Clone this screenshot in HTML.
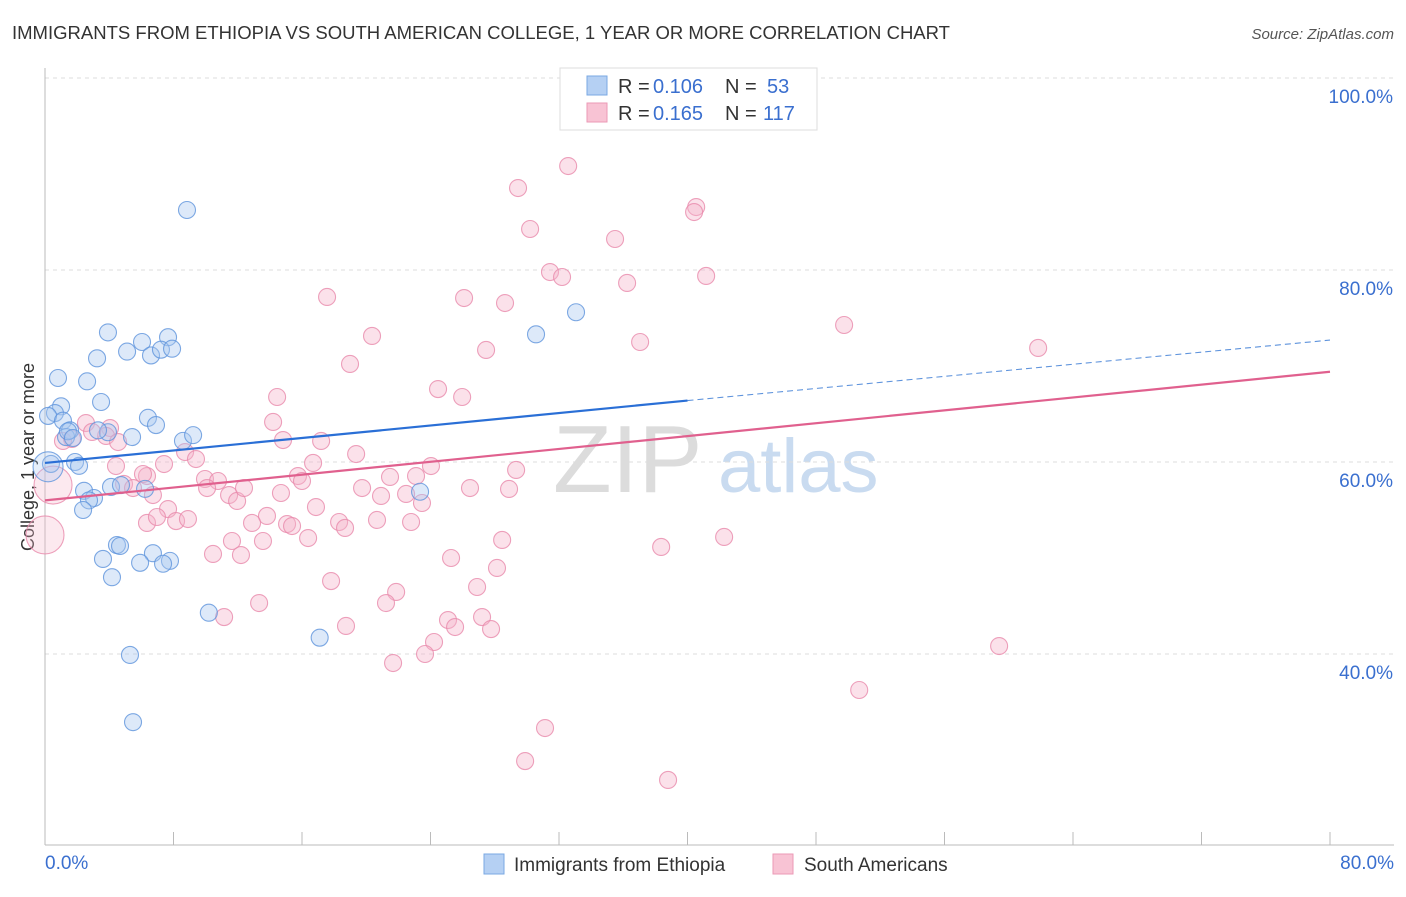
<!DOCTYPE html>
<html><head><meta charset="utf-8">
<style>
body{margin:0;background:#fff;font-family:"Liberation Sans",sans-serif;}
svg text{font-family:"Liberation Sans",sans-serif;}
</style></head>
<body>
<svg id="chart" width="1406" height="892" xmlns="http://www.w3.org/2000/svg">
<text x="12" y="39" font-size="18.4" fill="#333" textLength="938" lengthAdjust="spacingAndGlyphs">IMMIGRANTS FROM ETHIOPIA VS SOUTH AMERICAN COLLEGE, 1 YEAR OR MORE CORRELATION CHART</text>
<text x="1394" y="39" font-size="15" fill="#555" text-anchor="end" font-style="italic">Source: ZipAtlas.com</text>
<text transform="translate(34,457) rotate(-90)" font-size="18" fill="#333" text-anchor="middle">College, 1 year or more</text>
<g>
<text x="553" y="492" font-size="96" font-family="Liberation Serif,serif" fill="#dcdcdc">ZIP</text>
<text x="718" y="492" font-size="76" fill="#c9dbf0">atlas</text>
</g>
<g id="grid"></g>
<g id="axes"></g>
<g id="points"></g>
<g id="lines"></g>
<g>
<rect x="560" y="68" width="257" height="62" fill="#fff" stroke="#ddd"/>
<rect x="587" y="76" width="20" height="19" fill="#b5d0f3" stroke="#7aa8e3"/>
<rect x="587" y="103" width="20" height="19" fill="#f8c3d4" stroke="#eb9ab6"/>
<text x="618" y="93" font-size="20" fill="#333">R =</text>
<text x="653" y="93" font-size="20" fill="#3a6fcf">0.106</text>
<text x="725" y="93" font-size="20" fill="#333">N =</text>
<text x="767" y="93" font-size="20" fill="#3a6fcf">53</text>
<text x="618" y="120" font-size="20" fill="#333">R =</text>
<text x="653" y="120" font-size="20" fill="#3a6fcf">0.165</text>
<text x="725" y="120" font-size="20" fill="#333">N =</text>
<text x="763" y="120" font-size="20" fill="#3a6fcf">117</text>
</g>
<g>
<rect x="484" y="854" width="20" height="20" fill="#b5d0f3" stroke="#7aa8e3"/>
<text x="514" y="871" font-size="19" fill="#333">Immigrants from Ethiopia</text>
<rect x="773" y="854" width="20" height="20" fill="#f8c3d4" stroke="#eb9ab6"/>
<text x="804" y="871" font-size="19" fill="#333">South Americans</text>
</g>
</svg>
<script>
const yTicks=[40,60,80,100];
const yTickLabels=["40.0%","60.0%","80.0%","100.0%"];
const xEndLabels=["0.0%","80.0%"];
const blueX=[8.84,3.92,6.04,7.66,5.11,6.6,7.22,7.91,3.24,0.81,2.62,3.49,1.0,0.62,0.19,1.12,6.41,6.91,1.56,1.31,5.42,8.59,9.22,1.87,2.12,0.37,4.11,4.73,6.23,2.43,3.05,2.74,2.37,4.48,4.67,6.72,3.61,5.92,7.78,7.35,4.17,10.2,17.1,5.29,5.48,30.57,33.06,23.35,1.43,1.74,0.19,3.92,3.3];
const blueY=[86.25,73.5,72.5,73.0,71.5,71.1,71.7,71.8,70.8,68.75,68.4,66.25,65.8,65.1,64.8,64.3,64.6,63.85,63.3,62.6,62.6,62.2,62.8,60.0,59.6,59.8,57.4,57.6,57.2,57.0,56.25,56.0,55.0,51.35,51.25,50.5,49.9,49.5,49.7,49.4,48.0,44.3,41.7,39.9,32.9,73.3,75.6,56.9,63.2,62.5,59.5,63.1,63.3];
const pinkX=[32.57,29.45,40.54,40.41,30.2,35.49,31.44,32.19,41.16,36.24,17.56,26.09,28.64,49.75,20.36,37.05,61.83,27.46,18.99,24.47,14.45,25.97,14.2,14.82,17.19,2.55,4.05,3.8,2.93,1.68,4.55,1.12,8.72,9.4,19.37,16.69,24.03,4.42,7.41,6.35,6.1,15.75,16.0,21.48,23.1,29.33,9.96,10.77,19.74,26.46,28.89,6.72,7.66,4.92,5.48,10.09,11.46,11.96,12.39,14.69,20.92,22.48,23.47,16.87,13.82,6.35,6.97,8.16,8.9,12.89,15.07,15.38,18.31,18.68,20.67,22.79,16.38,11.64,13.57,28.46,38.36,42.28,10.46,12.2,25.28,17.81,28.14,26.9,21.86,21.23,13.33,11.15,25.09,25.53,27.21,27.77,18.74,24.22,23.66,21.67,59.4,50.69,31.13,29.89,38.79,0.5,0.0];
const pinkY=[90.83,88.54,86.56,86.04,84.27,83.23,79.79,79.27,79.38,78.65,77.19,77.08,76.56,74.27,73.13,72.5,71.88,71.67,70.21,67.6,66.77,66.77,64.17,62.29,62.19,64.06,63.54,62.71,63.13,62.4,62.08,62.19,61.04,60.31,60.83,59.9,59.58,59.58,59.79,58.54,58.75,58.54,58.02,58.44,58.54,59.17,58.23,58.02,57.29,57.29,57.19,56.56,55.1,57.71,57.29,57.29,56.56,55.94,57.29,56.77,56.46,56.67,55.73,55.31,54.38,53.65,54.27,53.85,54.06,53.65,53.54,53.33,53.75,53.13,53.96,53.75,52.08,51.77,51.77,51.88,51.15,52.19,50.42,50.31,50.0,47.6,48.96,46.98,46.46,45.31,45.31,43.85,43.54,42.81,43.85,42.6,42.92,41.25,40.0,39.06,40.83,36.25,32.29,28.85,26.88,57.6,52.4];
const blueTrend=[[0,59.9],[40,66.4],[80,72.7]];
const pinkTrend=[[0,56.0],[80,69.4]];
const NS="http://www.w3.org/2000/svg";
const xs=v=>45+v*16.0625;
const ys=v=>78+(100-v)*9.6;
function mk(tag,attrs,parent){const e=document.createElementNS(NS,tag);for(const k in attrs)e.setAttribute(k,attrs[k]);document.getElementById(parent).appendChild(e);return e;}
yTicks.forEach((t,i)=>{
 const g=mk('line',{x1:45,x2:1394,y1:ys(t),y2:ys(t),stroke:'#ddd','stroke-dasharray':'4,4'},'grid');
 
 
 const l=mk('text',{x:1393,y:ys(t)+25,'font-size':19,fill:'#3a6fcf','text-anchor':'end'},'axes');
 l.textContent=yTickLabels[i];
 
 
});
const ax=mk('line',{x1:45,x2:1394,y1:845,y2:845,stroke:'#bbb'},'axes');


const ay=mk('line',{x1:45,x2:45,y1:68,y2:845,stroke:'#bbb'},'axes');


for(let v=0;v<=80;v+=8){
 const t=mk('line',{x1:xs(v),x2:xs(v),y1:832,y2:845,stroke:'#bbb'},'axes');
 
 
}
[[0,'start'],[80,'end']].forEach((p,i)=>{
 const t=mk('text',{x:i?1394:45,y:869,'font-size':19,fill:'#3a6fcf','text-anchor':p[1]},'axes');
 t.textContent=xEndLabels[i];
 
 
});
function dot(x,y,r,fill,stroke,op,name){
 const c=mk('circle',{cx:xs(x),cy:ys(y),r:r,fill:fill,'fill-opacity':op,stroke:stroke,'stroke-opacity':0.8,'stroke-width':1.1},'points');
 
 
}
pinkX.forEach((x,i)=>{const big=i>=pinkX.length-2;dot(x,pinkY[i],big?19:8.5,'#f6b5ca','#e88aab',big?0.3:0.4,'point-south-americans');});
blueX.forEach((x,i)=>dot(x,blueY[i],i===50?15:8.5,'#a9c8f0','#5e93dc',i===50?0.3:0.4,'point-ethiopia'));
const b1=mk('line',{x1:xs(blueTrend[0][0]),y1:ys(blueTrend[0][1]),x2:xs(blueTrend[1][0]),y2:ys(blueTrend[1][1]),stroke:'#2a6fd6','stroke-width':2.2},'lines');


const b2=mk('line',{x1:xs(blueTrend[1][0]),y1:ys(blueTrend[1][1]),x2:xs(blueTrend[2][0]),y2:ys(blueTrend[2][1]),stroke:'#5e93dc','stroke-width':1.1,'stroke-dasharray':'6,4'},'lines');


const p1=mk('line',{x1:xs(pinkTrend[0][0]),y1:ys(pinkTrend[0][1]),x2:xs(pinkTrend[1][0]),y2:ys(pinkTrend[1][1]),stroke:'#e0608e','stroke-width':2.2},'lines');


</script>
</body></html>
